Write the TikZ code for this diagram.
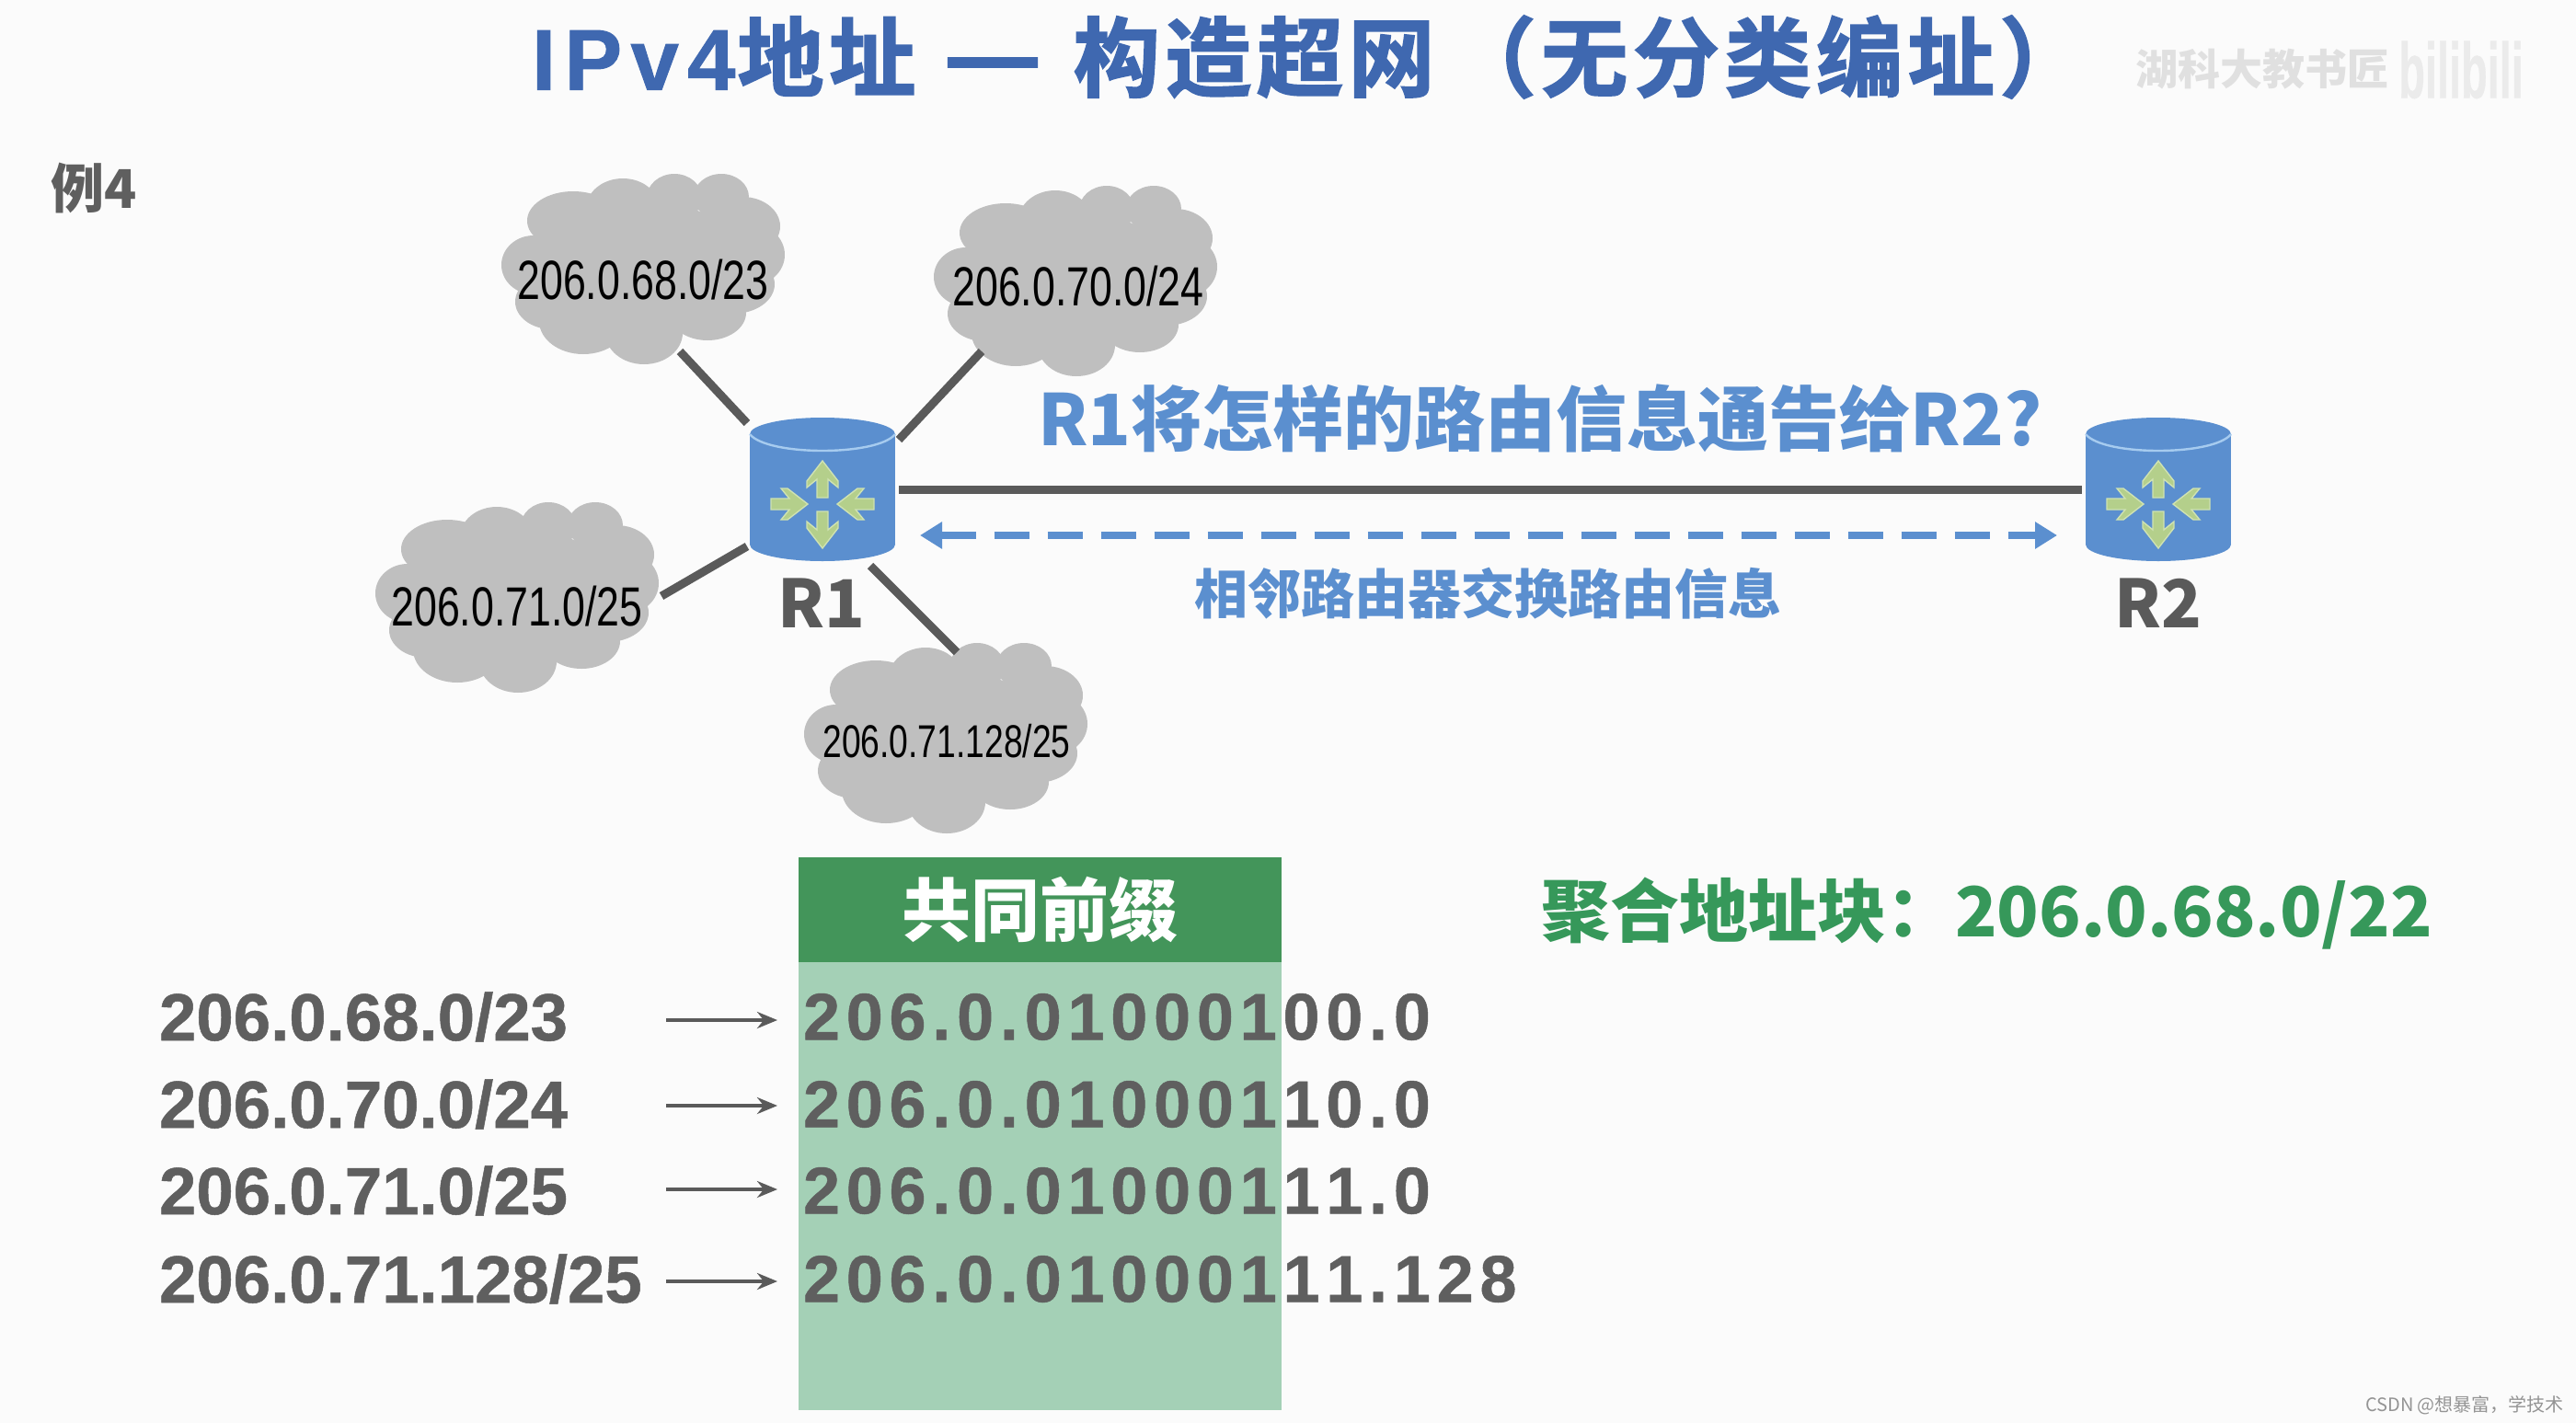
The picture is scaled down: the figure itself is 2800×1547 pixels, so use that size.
\documentclass[tikz,border=0pt]{standalone}
\usepackage{fontspec}
\usetikzlibrary{arrows.meta}
\setmainfont{Liberation Sans}
\newfontfamily\cjk{Noto Sans CJK SC}
\newfontfamily\titlecjk[LetterSpace=6,FakeBold=2]{Noto Sans CJK SC Bold}
\newfontfamily\titlelat[LetterSpace=10,FakeBold=1]{Liberation Sans Bold}
\newfontfamily\narrow[FakeStretch=0.745]{Liberation Sans}
\newfontfamily\rowfont[Kerning=Off,FakeBold=0.7]{Liberation Sans Bold}
\newfontfamily\bitfont[Kerning=Off,LetterSpace=9.4,FakeBold=0.7]{Liberation Sans Bold}
\definecolor{bgc}{HTML}{FBFBFB}
\definecolor{cloudc}{HTML}{BFBFBF}
\definecolor{linec}{HTML}{5A5A5A}
\definecolor{blue1}{HTML}{5B8FCF}
\definecolor{rim}{HTML}{A6CBEF}
\definecolor{arrowg}{HTML}{B4CF8B}
\definecolor{arrowe}{HTML}{CFE2B2}
\definecolor{titlec}{HTML}{3F68B0}
\definecolor{headg}{HTML}{43955A}
\definecolor{bodyg}{HTML}{A4D0B6}
\definecolor{aggg}{HTML}{36985A}
\definecolor{rowc}{HTML}{5F5F5F}
\tikzset{
  txt/.style={inner sep=0pt,outer sep=0pt},
  cloudtext/.style={txt,text=black,font=\narrow\fontsize{30}{30}\selectfont},
  link/.style={line width=4.5pt,draw=linec},
  routerbox/.style={txt,minimum width=79pt,minimum height=78pt},
  rlabel/.style={txt,text=linec,font=\cjk\bfseries\fontsize{36}{36}\selectfont},
  rowtext/.style={txt,anchor=west,text=rowc,font=\rowfont\fontsize{36.3}{36.3}\selectfont},
  bittext/.style={txt,anchor=west,text=rowc,font=\bitfont\fontsize{36}{36}\selectfont},
  rowarrow/.style={line width=2.4pt,draw=linec,-{Stealth[length=11pt,width=9pt]}},
}
\newcommand\lumpcloud[2]{%
  \begin{scope}[shift={(#1,#2)}]
  \fill[cloudc] (0,0) ellipse [x radius=120,y radius=72];
  \fill[cloudc] (-77,-52) ellipse [x radius=50,y radius=32];
  \fill[cloudc] (-23,-65) ellipse [x radius=40,y radius=33];
  \fill[cloudc] (33,-77) ellipse [x radius=30,y radius=26];
  \fill[cloudc] (84,-78) ellipse [x radius=30,y radius=25];
  \fill[cloudc] (107,-46) ellipse [x radius=41,y radius=32];
  \fill[cloudc] (115,-15) ellipse [x radius=38,y radius=34];
  \fill[cloudc] (-120,-4) ellipse [x radius=35,y radius=32];
  \fill[cloudc] (-100,36) ellipse [x radius=40,y radius=30];
  \fill[cloudc] (-66,57) ellipse [x radius=48,y radius=36];
  \fill[cloudc] (0,70) ellipse [x radius=42,y radius=34];
  \fill[cloudc] (69,48) ellipse [x radius=42,y radius=30];
  \fill[cloudc] (97,17) ellipse [x radius=45,y radius=32];
  \end{scope}}
\newcommand\garrow[3]{%
  \filldraw[fill=arrowg,draw=arrowe,line width=0.7pt,shift={(#1,#2)},rotate=#3]
    (0,-6)--(20,-6)--(11,-17)--(18,-17)--(40,0)--(18,17)--(11,17)--(20,6)--(0,6)--cycle;}
\newcommand\routerbody[2]{%
  \begin{scope}[shift={(#1,#2)}]
    \fill[blue1] (-79,-60) rectangle (79,60);
    \fill[blue1] (0,60) ellipse [x radius=79,y radius=18];
    \fill[blue1] (0,-60) ellipse [x radius=79,y radius=18];
    \draw[rim,line width=1.2pt] (-79,-60) .. controls (-60,-36) and (60,-36) .. (79,-60);
    \garrow{0}{9}{90}\garrow{0}{24}{-90}\garrow{-56}{16}{0}\garrow{56}{16}{180}
  \end{scope}}
\begin{document}
\begin{tikzpicture}[x=0.5pt,y=-0.5pt]
\useasboundingbox (0,0) rectangle (2800,1547);
\fill[bgc] (0,0) rectangle (2800,1547);

% title and marks
\node[txt,anchor=west,text=titlec] (title) at (578,62) {\fontsize{47}{47}\selectfont\titlelat IPv4\hspace{1pt}\titlecjk 地址\hspace{15pt}\scalebox{1.26}[1.1]{—}\hspace{17pt}构造超网\hspace{8pt}（无分类编址）};
\node[txt,text=black!12,font=\cjk\bfseries\fontsize{23}{23}\selectfont] (mark) at (2459,75) {湖科大教书匠};
\node[txt,text=black!8,font=\rowfont\fontsize{34}{34}\selectfont] (bili) at (2675,76) {\scalebox{0.69}[1.25]{bilibili}};
\node[txt,text=rowc,font=\cjk\bfseries\fontsize{29}{29}\selectfont] (ex) at (102,204) {例4};
\node[txt,text=black!42,font=\cjk\fontsize{10}{10}\selectfont] (csdn) at (2679,1528) {CSDN @想暴富，学技术};

% routers
\node[routerbox] (R1) at (894,532) {};
\node[routerbox] (R2) at (2346,532) {};
\routerbody{894}{532}
\routerbody{2346}{532}
\node[rlabel] (R1label) at (893,656) {R1};
\node[rlabel] (R2label) at (2346,656) {R2};

% clouds
\lumpcloud{700}{292}
\lumpcloud{1170}{305}
\lumpcloud{563}{649}
\lumpcloud{1029}{802}
\node[cloudtext] (netA) at (699,304) {206.0.68.0/23};
\node[cloudtext] (netB) at (1172,311) {206.0.70.0/24};
\node[cloudtext] (netC) at (562,659) {206.0.71.0/25};
\node[cloudtext,font=\narrow\fontsize{25}{25}\selectfont] (netD) at (1029,806) {206.0.71.128/25};

% connector ends
\coordinate (a1) at (739,382); \coordinate (a2) at (812,460);
\coordinate (b1) at (1067,382); \coordinate (b2) at (977,478);
\coordinate (c1) at (719,648); \coordinate (c2) at (812,594);
\coordinate (d1) at (946,615); \coordinate (d2) at (1040,709);
\coordinate (x1) at (1000,582); \coordinate (x2) at (2236,582);
\draw[link] (a1) -- (a2);
\draw[link] (b1) -- (b2);
\draw[link] (c1) -- (c2);
\draw[link] (d1) -- (d2);
\draw[link,shorten <=2pt,shorten >=2pt] (R1.east) -- (R2.west);
\draw[draw=blue1,line width=4pt,dash pattern=on 19pt off 10pt,{Triangle[length=12pt,width=14pt]}-{Triangle[length=12pt,width=14pt]}] (x1) -- (x2);

\node[txt,text=blue1,font=\cjk\bfseries\fontsize{38.5}{38.5}\selectfont] (ask) at (1674,455) {R1将怎样的路由信息通告给R2?};
\node[txt,text=blue1,font=\cjk\bfseries\fontsize{29}{29}\selectfont] (swap) at (1617,645) {相邻路由器交换路由信息};

% prefix table
\fill[bodyg] (868,1046) rectangle (1393,1533);
\node[txt,fill=headg,minimum width=262.5pt,minimum height=57pt,text=white,font=\cjk\bfseries\fontsize{37.5}{37.5}\selectfont] (prefix) at (1130.5,989) {共同前缀};
\node[txt,text=aggg,anchor=west,font=\cjk\bfseries\fontsize{37.5}{37.5}\selectfont] (agg) at (1675,993) {聚合地址块：206.0.68.0/22};

\node[rowtext] (rowA) at (173,1105.5) {206.0.68.0/23};
\node[rowtext] (rowB) at (173,1200.5) {206.0.70.0/24};
\node[rowtext] (rowC) at (173,1294.5) {206.0.71.0/25};
\node[rowtext] (rowD) at (173,1390.5) {206.0.71.128/25};
\node[bittext] (bitA) at (873,1105.5) {206.0.01000100.0};
\node[bittext] (bitB) at (873,1200.5) {206.0.01000110.0};
\node[bittext] (bitC) at (873,1294.5) {206.0.01000111.0};
\node[bittext] (bitD) at (873,1390.5) {206.0.01000111.128};
\coordinate (e1) at (724,1109); \coordinate (f1) at (845,1109);
\coordinate (e2) at (724,1202); \coordinate (f2) at (845,1202);
\coordinate (e3) at (724,1293); \coordinate (f3) at (845,1293);
\coordinate (e4) at (724,1393); \coordinate (f4) at (845,1393);
\draw[rowarrow] (e1) -- (f1);
\draw[rowarrow] (e2) -- (f2);
\draw[rowarrow] (e3) -- (f3);
\draw[rowarrow] (e4) -- (f4);
\end{tikzpicture}
\end{document}
